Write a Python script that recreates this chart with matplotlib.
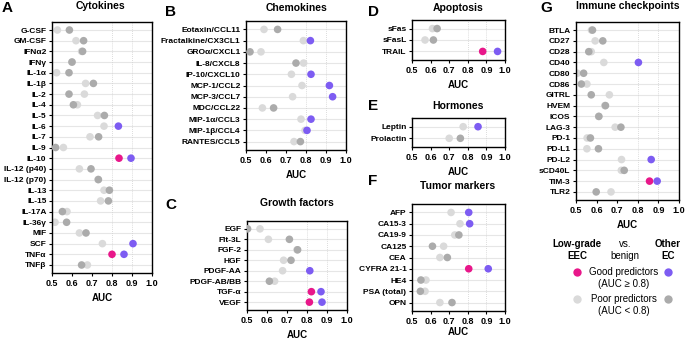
import matplotlib.pyplot as plt
from matplotlib.lines import Line2D

plt.rcParams["font.family"] = ["Liberation Sans", "DejaVu Sans"]

W, H = 685, 339

PINK = "#E8178A"
PURPLE = "#7D5CF2"
LIGHT = "#DADADA"
DARK = "#ABABAB"

# ---- data: AUC of low-grade EEC vs benign, other EC vs benign ----
cyto_names = ["G-CSF", "GM-CSF", "IFNα2", "IFNγ", "IL-1α", "IL-1β", "IL-2", "IL-4",
              "IL-5", "IL-6", "IL-7", "IL-9", "IL-10", "IL-12 (p40)", "IL-12 (p70)",
              "IL-13", "IL-15", "IL-17A", "IL-36γ", "MIF", "SCF", "TNFα", "TNFβ"]
cyto_low = [0.527, 0.62, 0.648, 0.60, 0.523, 0.668, 0.662, 0.627, 0.728, 0.76, 0.69,
            0.557, 0.835, 0.637, 0.73, 0.76, 0.743, 0.575, 0.515, 0.637, 0.752, 0.80, 0.677]
cyto_other = [0.587, 0.658, 0.653, 0.60, 0.585, 0.707, 0.585, 0.607, 0.762, 0.832, 0.733,
              0.518, 0.895, 0.695, 0.732, 0.787, 0.782, 0.552, 0.573, 0.67, 0.905, 0.86, 0.648]

chemo_names = ["Eotaxin/CCL11", "Fractalkine/CX3CL1", "GROα/CXCL1", "IL-8/CXCL8",
               "IP-10/CXCL10", "MCP-1/CCL2", "MCP-3/CCL7", "MDC/CCL22", "MIP-1α/CCL3",
               "MIP-1β/CCL4", "RANTES/CCL5"]
chemo_low = [0.59, 0.787, 0.575, 0.788, 0.727, 0.78, 0.733, 0.582, 0.775, 0.795, 0.74]
chemo_other = [0.658, 0.822, 0.52, 0.75, 0.825, 0.917, 0.933, 0.638, 0.825, 0.805, 0.772]

growth_names = ["EGF", "Flt-3L", "FGF-2", "HGF", "PDGF-AA", "PDGF-AB/BB", "TGF-α", "VEGF"]
growth_low = [0.565, 0.607, 0.75, 0.683, 0.678, 0.638, 0.822, 0.812]
growth_other = [0.503, 0.712, 0.753, 0.72, 0.814, 0.612, 0.87, 0.875]

apop_names = ["sFas", "sFasL", "TRAIL"]
apop_low = [0.61, 0.57, 0.88]
apop_other = [0.635, 0.615, 0.96]

horm_names = ["Leptin", "Prolactin"]
horm_low = [0.775, 0.70]
horm_other = [0.855, 0.76]

tumor_names = ["AFP", "CA15-3", "CA19-9", "CA125", "CEA", "CYFRA 21-1", "HE4",
               "PSA (total)", "OPN"]
tumor_low = [0.71, 0.758, 0.73, 0.67, 0.65, 0.805, 0.575, 0.57, 0.65]
tumor_other = [0.805, 0.81, 0.752, 0.61, 0.69, 0.91, 0.548, 0.545, 0.715]

immune_names = ["BTLA", "CD27", "CD28", "CD40", "CD80", "CD86", "GITRL", "HVEM", "ICOS",
                "LAG-3", "PD-1", "PD-L1", "PD-L2", "sCD40L", "TIM-3", "TLR2"]
immune_low = [0.575, 0.593, 0.574, 0.635, 0.506, 0.553, 0.662, 0.64, 0.61, 0.69, 0.554,
              0.553, 0.721, 0.72, 0.857, 0.67]
immune_other = [0.58, 0.63, 0.562, 0.803, 0.537, 0.526, 0.574, 0.643, 0.611, 0.718, 0.57,
                0.609, 0.865, 0.734, 0.894, 0.598]


def box(l, t, r, b):
    return [l / W, 1 - b / H, (r - l) / W, (b - t) / H]


def panel(fig, rect, names, low, other, title, title_xy, letter, letter_xy, labelpad=4):
    ax = fig.add_axes(box(*rect))
    n = len(names)
    ys = list(range(n))
    for y in ys:
        ax.axhline(y, color="#E6E6E6", lw=0.8, zorder=0)
    for xv in (0.8, 0.9):
        ax.axvline(xv, color="#D0D0D0", lw=0.6, ls=(0, (1, 1.5)), zorder=0)
    c_low = [PINK if v >= 0.8 else LIGHT for v in low]
    c_oth = [PURPLE if v >= 0.8 else DARK for v in other]
    ax.scatter(low, ys, s=30, c=c_low, zorder=2, linewidths=0)
    ax.scatter(other, ys, s=30, c=c_oth, zorder=3, linewidths=0)
    ax.set_xlim(0.5, 1.0)
    ax.set_ylim(n - 0.25, -0.75)
    ax.set_xticks([0.5, 0.6, 0.7, 0.8, 0.9, 1.0])
    ax.set_xticklabels(["0.5", "0.6", "0.7", "0.8", "0.9", "1.0"], fontsize=6.5,
                       fontweight="bold")
    ax.set_yticks(ys)
    ax.set_yticklabels(names, fontsize=6, fontweight="bold")
    ax.tick_params(length=2.5, width=0.8, pad=1.5)
    ax.set_xlabel("AUC", fontsize=7, fontweight="bold", labelpad=labelpad)
    for sp in ax.spines.values():
        sp.set_linewidth(1.0)
    fig.text(title_xy[0] / W, 1 - title_xy[1] / H, title, fontsize=7.5,
             fontweight="bold", ha="center", va="center")
    fig.text(letter_xy[0] / W, 1 - letter_xy[1] / H, letter, fontsize=11,
             fontweight="bold", ha="left", va="center")
    return ax


fig = plt.figure(figsize=(6.85, 3.39), dpi=100)

panel(fig, (52, 22, 152, 273), cyto_names, cyto_low, cyto_other,
      "Cytokines", (100, 6), "A", (2, 8))
panel(fig, (246, 21, 346, 150), chemo_names, chemo_low, chemo_other,
      "Chemokines", (297, 8), "B", (165, 12))
panel(fig, (247, 221, 347, 310), growth_names, growth_low, growth_other,
      "Growth factors", (297, 203), "C", (165, 205))
panel(fig, (412, 20, 505, 60), apop_names, apop_low, apop_other,
      "Apoptosis", (458, 8), "D", (368, 12))
panel(fig, (412, 118, 505, 147), horm_names, horm_low, horm_other,
      "Hormones", (458, 106), "E", (368, 106))
panel(fig, (412, 204, 505, 311), tumor_names, tumor_low, tumor_other,
      "Tumor markers", (458, 186), "F", (368, 181), labelpad=1)
panel(fig, (576, 22, 679, 200), immune_names, immune_low, immune_other,
      "Immune checkpoints", (628, 6), "G", (540, 8))

# ---- legend ----
lg = fig.add_axes([0, 0, 1, 1])
lg.set_xlim(0, W)
lg.set_ylim(H, 0)
lg.axis("off")
lg.text(577, 250, "Low-grade\nEEC", fontsize=7, fontweight="bold", ha="center",
        va="center", linespacing=1.2)
lg.text(625, 250, "vs.\nbenign", fontsize=7, ha="center", va="center", linespacing=1.2)
lg.text(668, 250, "Other\nEC", fontsize=7, fontweight="bold", ha="center", va="center",
        linespacing=1.2)
lg.text(624, 278, "Good predictors\n(AUC ≥ 0.8)", fontsize=7, ha="center", va="center",
        linespacing=1.3)
lg.text(624, 305, "Poor predictors\n(AUC < 0.8)", fontsize=7, ha="center", va="center",
        linespacing=1.3)
for (x, y, c) in [(577, 272, PINK), (668, 272, PURPLE), (577, 299, LIGHT), (668, 299, DARK)]:
    lg.add_line(Line2D([x], [y], marker="o", ms=6, color=c, mec="none", ls="none"))

fig.savefig("out.png", dpi=100)
